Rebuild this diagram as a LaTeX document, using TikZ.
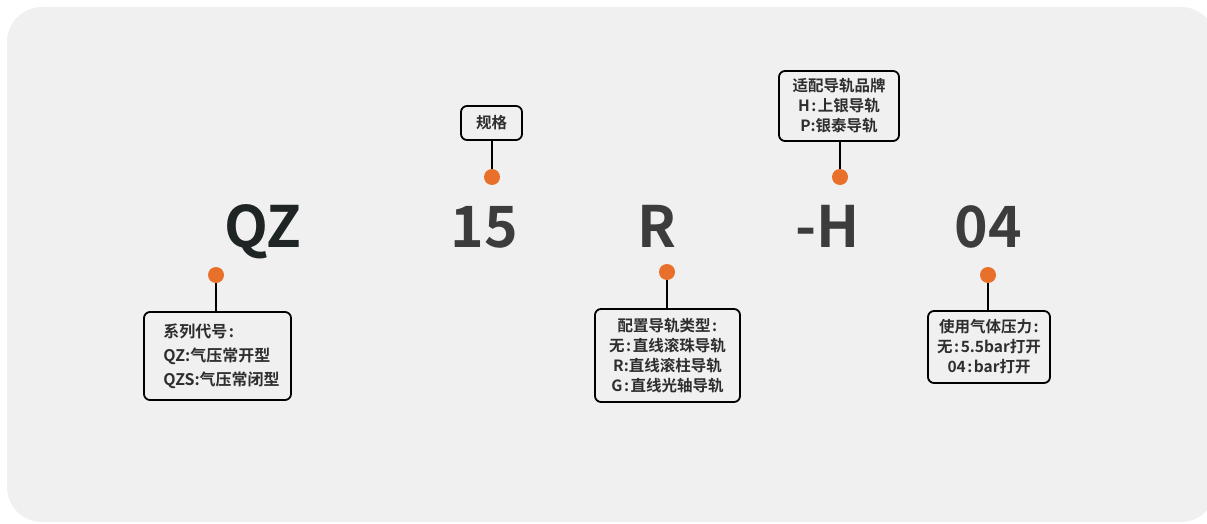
\documentclass[tikz,border=0pt]{standalone}
\usepackage{fontspec}
\setmainfont{Noto Sans CJK SC}[BoldFont={Noto Sans CJK SC Bold}]
\definecolor{bgc}{HTML}{F0F0F0}
\definecolor{dotc}{HTML}{E8702A}
\definecolor{big}{HTML}{3C3C3C}
\definecolor{bigq}{HTML}{1F2424}
\definecolor{txt}{HTML}{2E2E2E}
\newcommand{\cln}{\hspace{1.5pt}:\hspace{1.5pt}}
\newcommand{\ind}{\hspace*{8pt}}
\tikzset{
  infobox/.style={draw=black, line width=1.8pt, rounded corners=6pt, fill=bgc,
    inner sep=0pt, text=txt, font=\bfseries\fontsize{15.5}{20}\selectfont},
  dotmark/.style={circle, fill=dotc, minimum size=16pt, inner sep=0pt},
  bigcode/.style={anchor=base, text=big, font=\bfseries\fontsize{57}{57}\selectfont},
  link/.style={line width=2pt, draw=black}
}
\begin{document}
\begin{tikzpicture}[x=1pt,y=-1pt]
\useasboundingbox (0,0) rectangle (1207,524);
\fill[bgc, rounded corners=35pt] (7,7) rectangle (1216,522);
% codes
\node[bigcode, text=bigq] (qz) at (263,247) {QZ};
\node[bigcode] (n15) at (484,247) {15};
\node[bigcode] (r) at (657,247) {R};
\node[bigcode] (h) at (828,247) {-H};
\node[bigcode] (n04) at (988,247) {04};
% boxes
\node[infobox, minimum width=147pt, minimum height=88pt, align=left,
  font=\bfseries\fontsize{16}{24}\selectfont] (b1) at (217.5,356)
  {\ind 系列代号\cln\\\ind QZ:气压常开型\\\ind QZS:气压常闭型};
\node[infobox, minimum width=61pt, minimum height=34pt] (b2) at (491.5,123) {规格};
\node[infobox, minimum width=145pt, minimum height=93pt, align=center] (b3) at (667.5,355.5)
  {配置导轨类型\cln\\无\cln 直线滚珠导轨\\R:直线滚柱导轨\\G\cln 直线光轴导轨};
\node[infobox, minimum width=120pt, minimum height=70pt, align=center] (b4) at (839,106)
  {适配导轨品牌\\H\cln 上银导轨\\P:银泰导轨};
\node[infobox, minimum width=122pt, minimum height=72pt, align=center] (b5) at (989,347)
  {使用气体压力\cln\\无\cln 5.5bar打开\\04\cln bar打开};
% dots
\node[dotmark] (d1) at (216,275) {};
\node[dotmark] (d2) at (492,177) {};
\node[dotmark] (d3) at (667,272) {};
\node[dotmark] (d4) at (840,177) {};
\node[dotmark] (d5) at (988,275) {};
% links
\draw[link] (d1.south) -- (d1.south |- b1.north);
\draw[link] (d2.north) -- (d2.north |- b2.south);
\draw[link] (d3.south) -- (d3.south |- b3.north);
\draw[link] (d4.north) -- (d4.north |- b4.south);
\draw[link] (d5.south) -- (d5.south |- b5.north);
\end{tikzpicture}
\end{document}
